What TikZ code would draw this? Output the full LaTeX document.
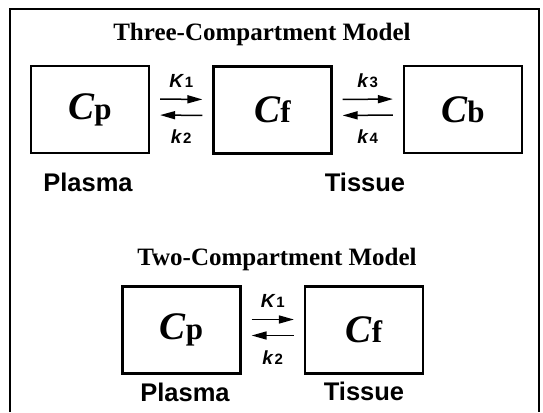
\documentclass[tikz,border=0pt]{standalone}
\usepackage{fontspec}
\setmainfont{Liberation Serif}
\setsansfont{Liberation Sans}
\usetikzlibrary{arrows.meta,positioning}

\newcommand{\conc}[1]{{\fontsize{39}{39}\selectfont\bfseries\itshape C}{\fontsize{31}{31}\selectfont\bfseries #1}}
\newcommand{\rate}[2]{{\fontsize{19}{19}\selectfont\sffamily\bfseries\itshape #1}\,{\fontsize{15}{15}\selectfont\sffamily\bfseries #2}}

\begin{document}
\begin{tikzpicture}[x=1pt, y=-1pt, >={Triangle[length=15pt,width=8pt]}, line width=1.5pt,
    comp/.style={draw, line width=2.2pt, minimum width=118pt, minimum height=87pt, inner sep=0pt},
    heading/.style={anchor=base, font=\fontsize{25}{25}\selectfont\bfseries},
    tag/.style={anchor=base, font=\fontsize{25.5}{25.5}\selectfont\sffamily\bfseries},
    flux/.style={->, shorten >=10pt, shorten <=10pt},
    rlab/.style={inner sep=0pt}]
    \useasboundingbox (0,0) rectangle (543,412);
    \draw[line width=1.3pt] (10,412) -- (10,9) -- (539,9) -- (539,412);
    % three-compartment model
    \node[heading] (title3) at (262,41) {Three-Compartment Model};
    \node[comp] (cp3) at (90,109.5) {\conc{p}};
    \node[comp] (cf3) at (272.5,110) {\conc{f}};
    \node[comp] (cb3) at (463,109.5) {\conc{b}};
    \draw[flux] ([yshift=10.5pt]cp3.east) -- ([yshift=10.5pt]cf3.west) node[rlab, midway, above=11pt] {\rate{K}{1}};
    \draw[flux] ([yshift=-5.5pt]cf3.west) -- ([yshift=-5.5pt]cp3.east) node[rlab, midway, below=14pt] {\rate{k}{2}};
    \draw[flux] ([yshift=10.5pt]cf3.east) -- ([yshift=10.5pt]cb3.west) node[rlab, midway, above=11pt] {\rate{k}{3}};
    \draw[flux] ([yshift=-5.5pt]cb3.west) -- ([yshift=-5.5pt]cf3.east) node[rlab, midway, below=14pt] {\rate{k}{4}};
    \node[tag] (plasma3) at (88,191) {Plasma};
    \node[tag] (tissue3) at (365,191) {Tissue};
    % two-compartment model
    \node[heading] (title2) at (277,265) {Two-Compartment Model};
    \node[comp] (cp2) at (181.5,330) {\conc{p}};
    \node[comp] (cf2) at (364,330) {\conc{f}};
    \draw[flux] ([yshift=10.5pt]cp2.east) -- ([yshift=10.5pt]cf2.west) node[rlab, midway, above=11pt] {\rate{K}{1}};
    \draw[flux] ([yshift=-5.5pt]cf2.west) -- ([yshift=-5.5pt]cp2.east) node[rlab, midway, below=14pt] {\rate{k}{2}};
    \node[tag] (plasma2) at (185,401) {Plasma};
    \node[tag] (tissue2) at (364,400) {Tissue};
\end{tikzpicture}
\end{document}
